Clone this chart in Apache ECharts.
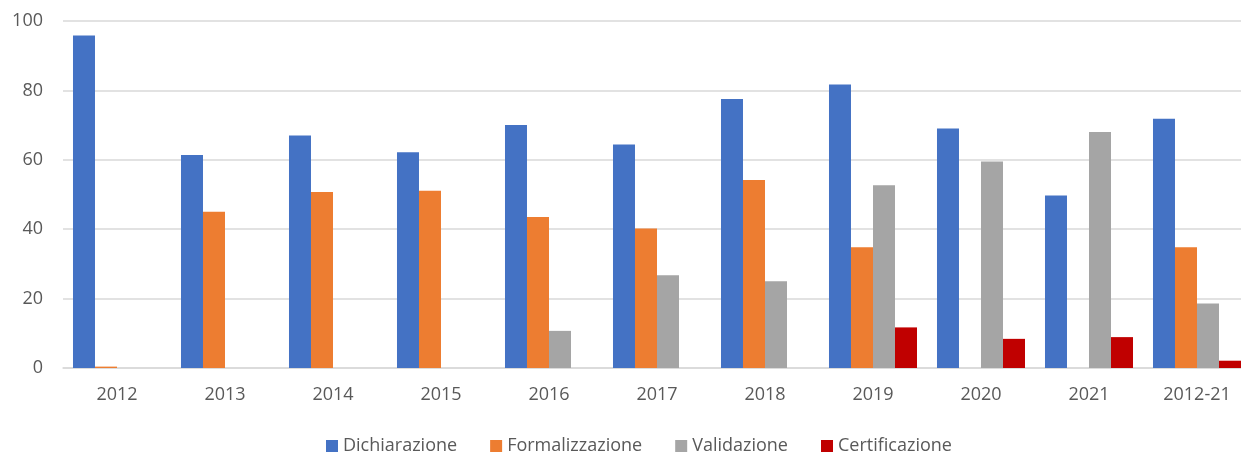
<!DOCTYPE html>
<html>
<head>
<meta charset="utf-8">
<script src="https://cdn.jsdelivr.net/npm/echarts@6/dist/echarts.min.js"></script>
<style>
  html, body { margin: 0; padding: 0; background: #fff; overflow: hidden; }
  #chart { width: 1241px; height: 454px; }
</style>
</head>
<body>
<div id="chart"></div>
<script>
  var categories = ['2012', '2013', '2014', '2015', '2016', '2017', '2018', '2019', '2020', '2021', '2012-21'];
  var dichiarazione = [95.8, 61.4, 67.0, 62.2, 70.0, 64.4, 77.5, 81.7, 69.0, 49.7, 71.8];
  var formalizzazione = [0.4, 45.0, 50.7, 51.1, 43.5, 40.2, 54.2, 34.8, 0, 0, 34.8];
  var validazione = [0, 0, 0, 0, 10.7, 26.7, 25.0, 52.7, 59.5, 68.0, 18.6];
  var certificazione = [0, 0, 0, 0, 0, 0, 0, 11.7, 8.4, 8.9, 2.1];
  var yTicks = [0, 20, 40, 60, 80, 100];

  var chart = echarts.init(document.getElementById('chart'));
  var font = '"Open Sans", sans-serif';

  function bar(name, data, color) {
    return {
      name: name,
      type: 'bar',
      data: data,
      barGap: '0%',
      barCategoryGap: '18.5%',
      itemStyle: { color: color },
      emphasis: { disabled: true }
    };
  }

  var option = {
    animation: false,
    textStyle: { fontFamily: font },
    grid: { left: 63, width: 1188, top: 21, height: 347, outerBoundsMode: 'none' },
    legend: {
      top: 432,
      left: 321,
      itemWidth: 12,
      itemHeight: 12,
      itemGap: 33,
      icon: 'rect',
      textStyle: { color: '#595959', fontSize: 18, fontFamily: font }
    },
    xAxis: {
      type: 'category',
      data: categories,
      axisLine: { lineStyle: { color: '#d9d9d9', width: 1.5 } },
      axisTick: { show: false },
      axisLabel: { color: '#595959', fontSize: 18, margin: 18, fontFamily: font }
    },
    yAxis: {
      type: 'value',
      min: yTicks[0],
      max: yTicks[yTicks.length - 1],
      interval: 20,
      axisLine: { show: false },
      axisTick: { show: false },
      splitLine: { lineStyle: { color: '#d9d9d9', width: 1.5 } },
      axisLabel: { color: '#595959', fontSize: 18, margin: 20, fontFamily: font }
    },
    series: [
      bar('Dichiarazione', dichiarazione, '#4472C4'),
      bar('Formalizzazione', formalizzazione, '#ED7D31'),
      bar('Validazione', validazione, '#A5A5A5'),
      bar('Certificazione', certificazione, '#C00000')
    ]
  };
  chart.setOption(option);
</script>
</body>
</html>
